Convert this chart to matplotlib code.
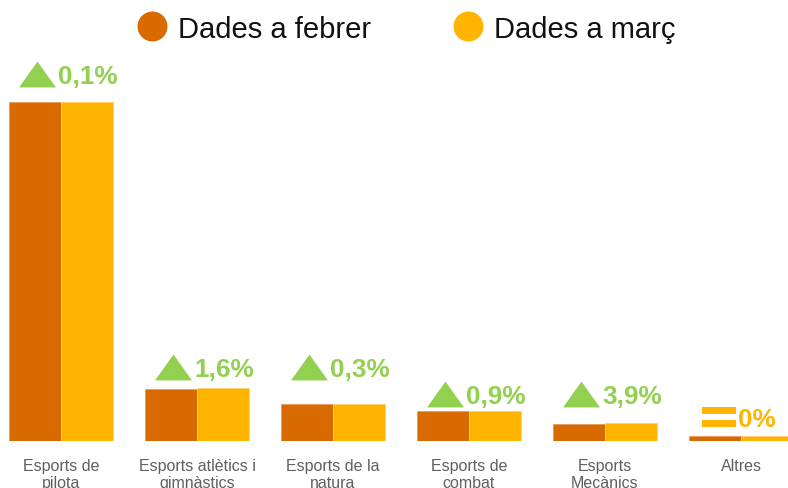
import matplotlib
matplotlib.use("Agg")
import matplotlib.pyplot as plt
from matplotlib.path import Path
from matplotlib.transforms import offset_copy
import numpy as np

# data (bar heights, arbitrary units)
categories = ["Esports de\npilota", "Esports atlètics i\ngimnàstics", "Esports de la\nnatura",
              "Esports de\ncombat", "Esports\nMecànics", "Altres"]
feb = [339, 52, 37, 30, 17, 5]
mar = [339.3, 52.8, 37.1, 30.3, 17.7, 5]
change = ["0,1%", "1,6%", "0,3%", "0,9%", "3,9%", "0%"]
trend = ["up", "up", "up", "up", "up", "flat"]

c_feb = "#D96A00"
c_mar = "#FFB500"
c_up = "#92D050"

plt.rcParams['font.family'] = ['Liberation Sans', 'DejaVu Sans']

fig = plt.figure(figsize=(7.88, 4.89), dpi=100)
ax = fig.add_axes([0, 47 / 489, 1, 442 / 489])

x = np.arange(len(categories))
w = 0.386
ax.bar(x - w / 2, feb, w, color=c_feb, edgecolor="#E89A5A", linewidth=0.6)
ax.bar(x + w / 2, mar, w, color=c_mar, edgecolor="#FFD070", linewidth=0.6)

ax.set_xlim(-61 / 136, 727 / 136)
ax.set_ylim(0, 442)
ax.set_xticks(x, categories, fontsize=11.5, color="#5f5f5f", linespacing=1.15)
ax.tick_params(axis="x", length=0, pad=12.5)
ax.set_yticks([])
for s in ax.spines.values():
    s.set_visible(False)

# change badges above each group
tri = Path([(-1, -0.7), (1, -0.7), (0, 0.7), (-1, -0.7)],
           [Path.MOVETO, Path.LINETO, Path.LINETO, Path.CLOSEPOLY])
eq = Path([(-1, 0.18), (1, 0.18), (1, 0.6), (-1, 0.6), (-1, 0.18),
           (-1, -0.6), (1, -0.6), (1, -0.18), (-1, -0.18), (-1, -0.6)],
          [Path.MOVETO, Path.LINETO, Path.LINETO, Path.LINETO, Path.CLOSEPOLY,
           Path.MOVETO, Path.LINETO, Path.LINETO, Path.LINETO, Path.CLOSEPOLY])
badge_y = [367, 74, 74, 47, 47, 24]
mark_tr = offset_copy(ax.transData, fig, x=-24, y=0, units="dots")
for i, (txt, t) in enumerate(zip(change, trend)):
    if t == "up":
        ax.plot(i, badge_y[i], marker=tri, ms=26.6, color=c_up, mew=0,
                transform=mark_tr, clip_on=False)
        col = c_up
    else:
        ax.plot(i, badge_y[i], marker=eq, ms=23.8, color=c_mar, mew=0,
                transform=offset_copy(ax.transData, fig, x=-22, y=0, units="dots"),
                clip_on=False)
        col = c_mar
    ax.annotate(txt, (i, badge_y[i]), xytext=(-3, 0), textcoords="offset pixels",
                ha="left", va="center_baseline", fontsize=18.8, fontweight="bold", color=col)

# legend at the top
for px, lab, col in [(152, "Dades a febrer", c_feb), (468, "Dades a març", c_mar)]:
    ax.plot(px / 788, 1 - 27 / 489, marker="o", ms=21.6, color=col, mew=0,
            transform=fig.transFigure, clip_on=False)
    fig.text((px + 26) / 788, 1 - 27 / 489, lab, fontsize=21, color="#111111",
             ha="left", va="center_baseline")

fig.savefig("out.png", dpi=100)
